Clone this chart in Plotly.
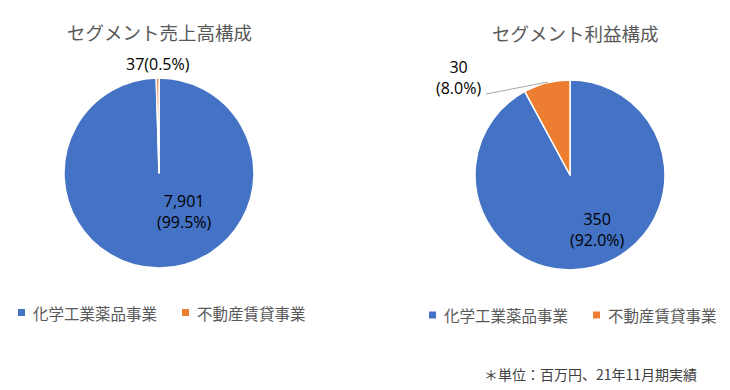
import plotly.graph_objects as go

W, H = 730, 390

segments = ["化学工業薬品事業", "不動産賃貸事業"]
sales = [7901, 37]
sales_pct = [99.5, 0.5]
profit = [350, 30]
profit_pct = [92.0, 8.0]
colors = ["#4472C4", "#ED7D31"]
titles = ["セグメント売上高構成", "セグメント利益構成"]
note = "＊単位：百万円、21年11月期実績"

FONT = "Noto Sans CJK JP"
NUMFONT = "Open Sans, Noto Sans CJK JP"
GRAY = "#595959"


def px(x):
    return x / W


def py(y):
    return 1 - y / H


fig = go.Figure()
fig.add_trace(go.Pie(
    labels=segments, values=sales, sort=False, direction="clockwise", rotation=0,
    marker=dict(colors=colors, line=dict(color="white", width=1.5)),
    textinfo="none", hoverinfo="label+value+percent",
    domain=dict(x=[px(64), px(254)], y=[py(268), py(78)]),
    showlegend=False,
))
fig.add_trace(go.Pie(
    labels=segments, values=profit, sort=False, direction="clockwise", rotation=0,
    marker=dict(colors=colors, line=dict(color="white", width=1.5)),
    textinfo="none", hoverinfo="label+value+percent",
    domain=dict(x=[px(475), px(665)], y=[py(270), py(80)]),
    showlegend=False,
))


def A(text, x, y, font, xanchor="center"):
    return dict(text=text, x=px(x), y=py(y), xref="paper", yref="paper",
                xanchor=xanchor, yanchor="middle", showarrow=False, font=font)


ann = []
tfont = dict(family=FONT, size=18.5, color=GRAY)
ann.append(A(titles[0], 159, 32, tfont))
ann.append(A(titles[1], 575, 33, tfont))

lab_font = dict(family=NUMFONT, size=16, color="#000000")
ann.append(A(f"{sales[0]:,}<br>({sales_pct[0]:.1f}%)", 184, 212, lab_font))
ann.append(A(f"{sales[1]:,}({sales_pct[1]:.1f}%)", 158, 64, lab_font))
ann.append(A(f"{profit[0]:,}<br>({profit_pct[0]:.1f}%)", 597, 229, lab_font))
ann.append(A(f"{profit[1]:,}<br>({profit_pct[1]:.1f}%)", 458, 78, lab_font))
ann.append(A(note, 482, 374, dict(family=FONT, size=14, color="#404040"), xanchor="left"))

shapes = [dict(type="line", xref="paper", yref="paper",
               x0=px(486), y0=py(94), x1=px(548), y1=py(82),
               line=dict(color="#A6A6A6", width=1))]

# legends (one per pie)
leg_font = dict(family=FONT, size=15.5, color=GRAY)
legend_layout = [
    # (square x, text x, center y) for each segment, per pie
    [(18, 31, 312.5), (182, 195, 312.5)],
    [(429, 442, 315), (593, 606, 315)],
]
for pie_items in legend_layout:
    for (sx, tx, cy), name, col in zip(pie_items, segments, colors):
        shapes.append(dict(type="rect", xref="paper", yref="paper",
                           x0=px(sx), x1=px(sx + 7), y0=py(cy + 3.5), y1=py(cy - 3.5),
                           fillcolor=col, line=dict(width=0)))
        ann.append(A(name, tx, cy, leg_font, xanchor="left"))

fig.update_layout(
    width=W, height=H,
    margin=dict(l=0, r=0, t=0, b=0, autoexpand=False),
    paper_bgcolor="white", plot_bgcolor="white",
    annotations=ann, shapes=shapes, showlegend=False,
)
fig.write_html("out.html", config={"displayModeBar": False},
               post_script="document.body.style.margin='0';")
